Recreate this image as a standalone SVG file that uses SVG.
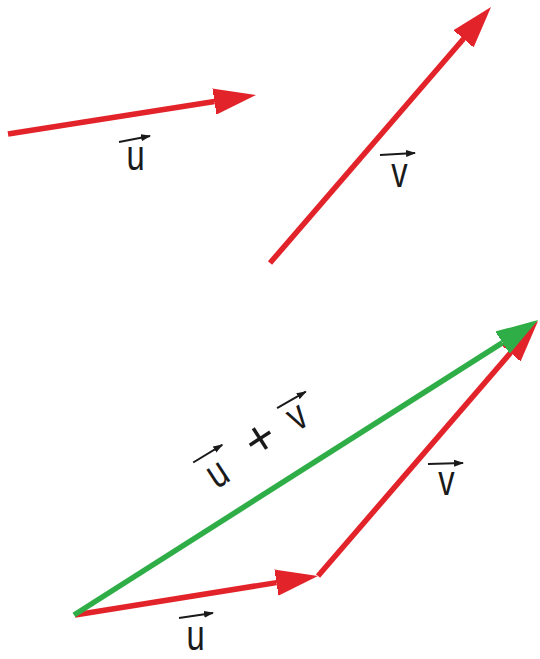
<svg xmlns="http://www.w3.org/2000/svg" width="540" height="659" viewBox="0 0 540 659">
<style>
.red{stroke:#e3232a;stroke-width:5.5;fill:none}
.green{stroke:#2fae48;stroke-width:5.5;fill:none}
.lbl{font-family:"Liberation Sans",Arial,sans-serif;font-size:42px;fill:#1a1a1a}
.vec{stroke:#1a1a1a;stroke-width:2;fill:none}
</style>
<defs>
<marker id="hr" markerUnits="userSpaceOnUse" viewBox="0 -14 43 28" refX="0" refY="0" markerWidth="43" markerHeight="28" orient="auto"><path d="M-1,-13.5 L42,0 L-1,13.5 z" fill="#e3232a"/></marker>
<marker id="hg" markerUnits="userSpaceOnUse" viewBox="0 -14 43 28" refX="0" refY="0" markerWidth="43" markerHeight="28" orient="auto"><path d="M-1,-13.5 L42,0 L-1,13.5 z" fill="#2fae48"/></marker>
<marker id="hs" markerUnits="userSpaceOnUse" viewBox="0 -4 10 8" refX="9" refY="0" markerWidth="10" markerHeight="8" orient="auto"><path d="M0,-3.5 L10,0 L0,3.5 z" fill="#1a1a1a"/></marker>
</defs>
<g id="connectors">
<path id="u-top" class="red" d="M8,134 L214.5,101.5" marker-end="url(#hr)"/>
<path id="v-top" class="red" d="M270,263 L463.6,38.8" marker-end="url(#hr)"/>
<path id="v-bottom" class="red" d="M318,576 L510.6,352.8" marker-end="url(#hr)"/>
<path id="u-bottom" class="red" d="M75,615 L276.5,582.6" marker-end="url(#hr)"/>
<path id="sum" class="green" d="M74,615 L502.6,342.6" marker-end="url(#hg)"/>
</g>
<g id="label-u-top">
<path class="vec" d="M119,142 L150,136" marker-end="url(#hs)"/>
<text class="lbl" text-anchor="middle" transform="translate(135.5,170) scale(0.78,1)">u</text>
</g>
<g id="label-v-top">
<path class="vec" d="M380,155 L415,153" marker-end="url(#hs)"/>
<text class="lbl" text-anchor="middle" transform="translate(399.5,187) scale(0.78,1)">v</text>
</g>
<g id="label-sum" transform="translate(218,475) rotate(-33)">
<path class="vec" d="M-14,-24 L20,-23" marker-end="url(#hs)"/>
<text class="lbl" text-anchor="middle" transform="translate(0,11.5) scale(0.78,1)">u</text>
<text class="lbl" text-anchor="middle" style="font-size:50px" transform="translate(55,9)">+</text>
<path class="vec" d="M86,-24 L119,-22" marker-end="url(#hs)"/>
<text class="lbl" text-anchor="middle" transform="translate(98,7) scale(0.78,1)">v</text>
</g>
<g id="label-u-bottom">
<path class="vec" d="M179,618 L213,613" marker-end="url(#hs)"/>
<text class="lbl" text-anchor="middle" transform="translate(195.5,650) scale(0.78,1)">u</text>
</g>
<g id="label-v-bottom">
<path class="vec" d="M428,464 L463,463" marker-end="url(#hs)"/>
<text class="lbl" text-anchor="middle" transform="translate(446.5,495) scale(0.78,1)">v</text>
</g>
</svg>
